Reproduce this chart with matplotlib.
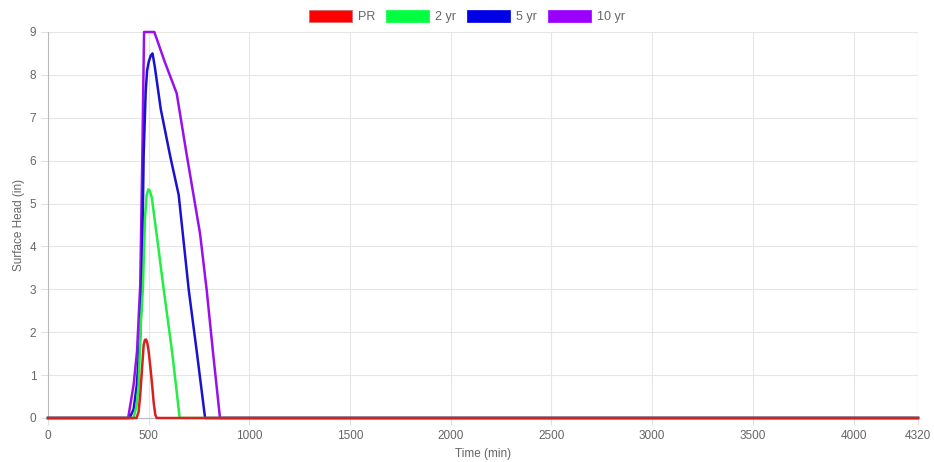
import matplotlib.pyplot as plt
from matplotlib.patches import Patch

plt.rcParams['font.family'] = ['Liberation Sans', 'DejaVu Sans']

# time (min) / surface head (in)
t_pr = [0, 440, 450, 458, 467, 475, 481, 487, 493, 500, 508, 517, 525, 533, 540, 4320]
h_pr = [0, 0, 0.15, 0.54, 1.15, 1.7, 1.82, 1.83, 1.75, 1.55, 1.2, 0.77, 0.35, 0.07, 0, 0]

t_2yr = [0, 425, 440, 450, 462, 471, 482, 490, 498, 505, 515, 525, 550, 575, 616, 654, 4320]
h_2yr = [0, 0, 0.3, 0.77, 2.3, 3.0, 4.7, 5.2, 5.33, 5.3, 5.15, 4.8, 3.9, 2.98, 1.55, 0, 0]

t_5yr = [0, 405, 425, 441, 458, 466, 470, 475, 485, 492, 500, 510, 519, 530, 560, 607,
         649, 699, 740, 780, 4320]
h_5yr = [0, 0, 0.2, 0.77, 1.93, 3.1, 4.5, 6.13, 7.6, 8.1, 8.3, 8.45, 8.5, 8.2, 7.2, 6.1,
         5.2, 2.98, 1.5, 0, 0]

t_10yr = [0, 398, 425, 442, 458, 468, 477, 528, 580, 639, 689, 755, 788, 820, 854, 4320]
h_10yr = [0, 0, 0.77, 1.55, 3.1, 6.0, 9.0, 9.0, 8.3, 7.57, 6.13, 4.3, 2.98, 1.5, 0, 0]

x_ticks = [0, 500, 1000, 1500, 2000, 2500, 3000, 3500, 4000, 4320]
y_ticks = [0, 1, 2, 3, 4, 5, 6, 7, 8, 9]

names = ['PR', '2 yr', '5 yr', '10 yr']
line_colors = ['#d42222', '#22ee44', '#1a12cc', '#9910ee']
fill_colors = ['#ff0000', '#00ff40', '#0000e6', '#9900ff']

fig = plt.figure(figsize=(9.34, 4.62), dpi=100)
ax = fig.add_axes([48 / 934, 1 - 418 / 462, 870 / 934, 386 / 462])

series = [(t_pr, h_pr), (t_2yr, h_2yr), (t_5yr, h_5yr), (t_10yr, h_10yr)]
for i, (t, h) in enumerate(series):
    ax.plot(t, h, color=line_colors[i], lw=1.8, zorder=10 - i, solid_joinstyle='round',
            clip_on=False)

ax.set_xlim(0, 4320)
ax.set_ylim(0, 9)
ax.set_xticks(x_ticks)
ax.set_yticks(y_ticks)
ax.grid(True, color='#e6e6e6', lw=0.8)
ax.set_axisbelow(True)
for s in ['top', 'right']:
    ax.spines[s].set_visible(False)
for s in ['left', 'bottom']:
    ax.spines[s].set_color('#bbbbbb')
ax.tick_params(colors='#e0e0e0', labelcolor='#666666', labelsize=8.5, length=5)
ax.axvline(4320, color='#e6e6e6', lw=0.8)

ax.set_xlabel('Time (min)', color='#666666', fontsize=8.5, va='center')
ax.xaxis.set_label_coords(0.5, -36 / 386)
ax.set_ylabel('Surface Head (in)', color='#666666', fontsize=8.5, va='center')
ax.yaxis.set_label_coords(-29 / 870, 0.5)

handles = [Patch(facecolor=fill_colors[i], edgecolor='#cc6666' if i == 0 else fill_colors[i], lw=0.5)
           for i in range(4)]
leg = fig.legend(handles, names, loc='center', bbox_to_anchor=(0.5, 0.965), ncol=4,
                 frameon=False, handlelength=3.4, handleheight=1.1, handletextpad=0.5,
                 columnspacing=0.9, fontsize=9)
for txt in leg.get_texts():
    txt.set_color('#666666')

fig.savefig('out.png', dpi=100)
